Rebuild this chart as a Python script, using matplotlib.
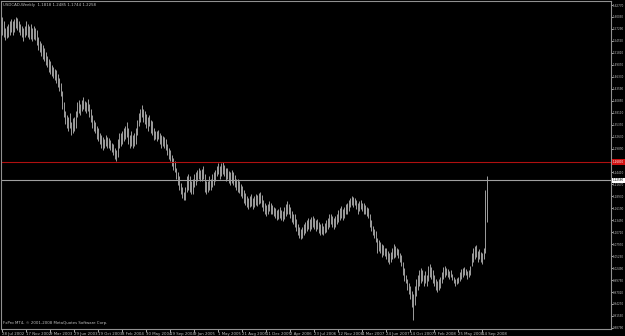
import matplotlib
matplotlib.use("Agg")
import matplotlib.pyplot as plt
import matplotlib.transforms as mtransforms

# USDCAD weekly bars (low / high per week, from 28 Jul 2002)
lows = [
    1.560, 1.555, 1.548, 1.552, 1.555, 1.560, 1.565, 1.560, 1.565, 1.575,
    1.570, 1.565, 1.560, 1.555, 1.545, 1.555, 1.560, 1.555, 1.550, 1.550,
    1.545, 1.550, 1.548,
    # 2003
    1.535, 1.525, 1.520, 1.510, 1.505, 1.500, 1.490, 1.485, 1.475, 1.470,
    1.465, 1.460, 1.455, 1.450, 1.440, 1.430, 1.420, 1.390, 1.370, 1.355,
    1.345, 1.340, 1.345, 1.330, 1.335, 1.340, 1.345, 1.370, 1.380, 1.375,
    1.385, 1.390, 1.385, 1.380, 1.385, 1.370, 1.360, 1.345, 1.340, 1.335,
    1.320, 1.315, 1.310, 1.300, 1.295, 1.300, 1.305, 1.300, 1.300, 1.295,
    1.290, 1.285,
    # 2004
    1.275, 1.270, 1.280, 1.300, 1.305, 1.310, 1.315, 1.320, 1.325, 1.310,
    1.300, 1.305, 1.300, 1.305, 1.310, 1.330, 1.350, 1.360, 1.370, 1.360,
    1.355, 1.345, 1.340, 1.350, 1.335, 1.330, 1.318, 1.320, 1.315, 1.320,
    1.310, 1.300, 1.305, 1.300, 1.295, 1.285, 1.275, 1.270, 1.260, 1.250,
    1.245, 1.230, 1.215, 1.205, 1.195, 1.185, 1.180, 1.182, 1.200, 1.205,
    1.200, 1.195,
    # 2005
    1.195, 1.210, 1.215, 1.225, 1.230, 1.225, 1.225, 1.230, 1.200, 1.195,
    1.200, 1.205, 1.205, 1.210, 1.215, 1.225, 1.235, 1.240, 1.230, 1.235,
    1.240, 1.235, 1.225, 1.228, 1.220, 1.215, 1.220, 1.215, 1.210, 1.205,
    1.200, 1.198, 1.190, 1.185, 1.175, 1.170, 1.165, 1.160, 1.165, 1.168,
    1.160, 1.165, 1.170, 1.168, 1.172, 1.175, 1.165, 1.155, 1.150, 1.145,
    1.150, 1.155,
    # 2006
    1.150, 1.148, 1.145, 1.140, 1.135, 1.138, 1.140, 1.135, 1.132, 1.138,
    1.145, 1.150, 1.148, 1.140, 1.130, 1.125, 1.120, 1.110, 1.100, 1.095,
    1.092, 1.095, 1.100, 1.105, 1.110, 1.115, 1.110, 1.115, 1.120, 1.115,
    1.110, 1.115, 1.105, 1.100, 1.102, 1.100, 1.105, 1.108, 1.115, 1.120,
    1.125, 1.120, 1.115, 1.118, 1.125, 1.130, 1.135, 1.140, 1.135, 1.140,
    1.148, 1.150, 1.155,
    # 2007
    1.165, 1.170, 1.165, 1.170, 1.160, 1.150, 1.155, 1.160, 1.155, 1.150,
    1.150, 1.145, 1.140, 1.120, 1.110, 1.100, 1.095, 1.085, 1.060, 1.065,
    1.060, 1.050, 1.055, 1.052, 1.045, 1.040, 1.035, 1.040, 1.045, 1.048,
    1.050, 1.055, 1.048, 1.040, 1.030, 1.010, 0.995, 0.990, 0.975, 0.965,
    0.955, 0.935, 0.906, 0.940, 0.960, 0.975, 0.985, 0.990, 0.995, 0.985,
    0.990, 0.985,
    # 2008
    0.995, 1.005, 1.000, 0.990, 0.985, 0.975, 0.970, 0.975, 0.980, 0.990,
    1.000, 1.005, 1.010, 1.005, 1.000, 1.005, 0.998, 0.990, 0.985, 0.988,
    0.990, 0.995, 1.000, 1.005, 1.010, 1.008, 1.000, 1.005, 1.010, 1.030,
    1.040, 1.045, 1.050, 1.040, 1.045, 1.040, 1.035, 1.045, 1.060, 1.130,
]
highs = [
    1.600, 1.590, 1.575, 1.580, 1.585, 1.592, 1.595, 1.590, 1.595, 1.600,
    1.598, 1.590, 1.585, 1.580, 1.575, 1.580, 1.590, 1.585, 1.580, 1.585,
    1.575, 1.580, 1.575,
    # 2003
    1.570, 1.555, 1.545, 1.540, 1.535, 1.530, 1.520, 1.510, 1.505, 1.500,
    1.490, 1.485, 1.480, 1.478, 1.470, 1.460, 1.450, 1.430, 1.405, 1.385,
    1.375, 1.372, 1.380, 1.360, 1.368, 1.370, 1.385, 1.405, 1.410, 1.400,
    1.410, 1.418, 1.408, 1.405, 1.412, 1.400, 1.390, 1.375, 1.365, 1.360,
    1.350, 1.345, 1.335, 1.330, 1.325, 1.320, 1.330, 1.325, 1.322, 1.318,
    1.312, 1.310,
    # 2004
    1.300, 1.295, 1.320, 1.335, 1.335, 1.340, 1.345, 1.350, 1.360, 1.345,
    1.330, 1.338, 1.330, 1.335, 1.345, 1.365, 1.380, 1.390, 1.398, 1.390,
    1.385, 1.378, 1.370, 1.375, 1.365, 1.362, 1.345, 1.340, 1.338, 1.342,
    1.335, 1.330, 1.328, 1.325, 1.320, 1.310, 1.300, 1.295, 1.285, 1.278,
    1.270, 1.255, 1.245, 1.235, 1.220, 1.210, 1.200, 1.210, 1.235, 1.240,
    1.235, 1.225,
    # 2005
    1.230, 1.240, 1.245, 1.250, 1.255, 1.250, 1.252, 1.260, 1.240, 1.225,
    1.225, 1.235, 1.230, 1.240, 1.245, 1.250, 1.260, 1.265, 1.260, 1.265,
    1.268, 1.262, 1.255, 1.255, 1.248, 1.245, 1.250, 1.245, 1.238, 1.230,
    1.228, 1.225, 1.218, 1.212, 1.205, 1.198, 1.190, 1.185, 1.190, 1.195,
    1.185, 1.190, 1.195, 1.192, 1.198, 1.200, 1.192, 1.182, 1.175, 1.170,
    1.172, 1.178,
    # 2006
    1.175, 1.170, 1.165, 1.162, 1.158, 1.160, 1.165, 1.158, 1.155, 1.165,
    1.172, 1.178, 1.172, 1.165, 1.155, 1.150, 1.148, 1.138, 1.125, 1.118,
    1.115, 1.120, 1.125, 1.130, 1.135, 1.140, 1.138, 1.142, 1.145, 1.140,
    1.135, 1.138, 1.130, 1.125, 1.128, 1.122, 1.128, 1.135, 1.140, 1.148,
    1.150, 1.145, 1.140, 1.145, 1.150, 1.158, 1.162, 1.168, 1.160, 1.165,
    1.172, 1.175, 1.180,
    # 2007
    1.185, 1.190, 1.188, 1.185, 1.182, 1.175, 1.178, 1.180, 1.175, 1.175,
    1.170, 1.165, 1.162, 1.150, 1.135, 1.122, 1.115, 1.110, 1.095, 1.090,
    1.085, 1.080, 1.078, 1.072, 1.070, 1.065, 1.060, 1.062, 1.070, 1.080,
    1.075, 1.072, 1.068, 1.060, 1.055, 1.040, 1.025, 1.010, 1.000, 0.990,
    0.985, 0.972, 0.965, 0.985, 1.000, 1.010, 1.020, 1.025, 1.020, 1.010,
    1.018, 1.010,
    # 2008
    1.030, 1.035, 1.028, 1.020, 1.010, 1.000, 0.995, 1.000, 1.005, 1.015,
    1.028, 1.030, 1.025, 1.022, 1.018, 1.020, 1.012, 1.005, 1.000, 1.002,
    1.005, 1.015, 1.022, 1.025, 1.028, 1.022, 1.018, 1.020, 1.030, 1.060,
    1.070, 1.075, 1.078, 1.065, 1.068, 1.062, 1.060, 1.072, 1.205, 1.235,
]

last_close = 1.2258
red_level = 1.2680
header = "USDCAD,Weekly  1.1818 1.2485 1.1744 1.2258"
footer = "FxPro MT4, \u00a9 2001-2008 MetaQuotes Software Corp."

date_labels = [
    "28 Jul 2002", "17 Nov 2002", "9 Mar 2003", "29 Jun 2003", "19 Oct 2003",
    "8 Feb 2004", "30 May 2004", "19 Sep 2004", "9 Jan 2005", "1 May 2005",
    "21 Aug 2005", "11 Dec 2005", "2 Apr 2006", "23 Jul 2006", "12 Nov 2006",
    "4 Mar 2007", "24 Jun 2007", "14 Oct 2007", "3 Feb 2008", "25 May 2008",
    "14 Sep 2008",
]
date_step = 16  # weeks between date labels

price_ticks = [
    1.62770, 1.60030, 1.57290, 1.54550, 1.51810, 1.49070, 1.46330, 1.43590,
    1.40850, 1.38110, 1.35370, 1.32630, 1.29890, 1.27150, 1.24410, 1.21670,
    1.18930, 1.16190, 1.13450, 1.10710, 1.07970, 1.05230, 1.02490, 0.99750,
    0.97010, 0.94270, 0.91530, 0.88790,
]

W, H = 625, 336
fg = "#c0c0c0"
fs = 2.8
fs_y = 2.0
fig = plt.figure(figsize=(W / 100, H / 100), dpi=100, facecolor="black")
ax = fig.add_axes([1 / W, 1 - 329 / H, 610 / W, 328 / H])
ax.set_facecolor("black")

weeks = list(range(len(lows)))
ax.vlines(weeks, lows, highs, color="#b8b8b8", lw=0.6)

ax.axhline(red_level, color="#b01010", lw=0.8)
ax.axhline(last_close, color="#a0a0a0", lw=0.8)

ax.set_xlim(-0.7, 406)
ax.set_ylim(0.8854, 1.6369)

for s in ax.spines.values():
    s.set_color("#909090")
    s.set_linewidth(0.8)

ax.yaxis.tick_right()
ax.set_yticks(price_ticks)
ax.set_yticklabels(["%.5f" % p for p in price_ticks])
ax.set_xticks([i * date_step for i in range(len(date_labels))])
ax.set_xticklabels(date_labels)
for lab in ax.get_xticklabels():
    lab.set_ha("left")
ax.tick_params(axis="y", colors=fg, labelsize=fs_y, length=1.2, width=0.6, pad=0.4)
ax.tick_params(axis="x", colors=fg, labelsize=fs, length=2, width=0.6, pad=0.5)

tr = mtransforms.blended_transform_factory(ax.transAxes, ax.transData)
ax.text(1.003, red_level, "%.5f" % red_level, transform=tr, fontsize=fs_y,
        color="white", va="center", ha="left",
        bbox=dict(facecolor="#d01010", edgecolor="none", pad=0.5))
ax.text(1.003, last_close, "%.5f" % last_close, transform=tr, fontsize=fs_y,
        color="black", va="center", ha="left",
        bbox=dict(facecolor="white", edgecolor="none", pad=0.5))

ax.text(0.004, 0.993, header, transform=ax.transAxes, fontsize=fs,
        color=fg, va="top", ha="left")
ax.text(0.004, 0.012, footer, transform=ax.transAxes, fontsize=fs,
        color=fg, va="bottom", ha="left")

fig.savefig("out.png", dpi=100, facecolor="black")
